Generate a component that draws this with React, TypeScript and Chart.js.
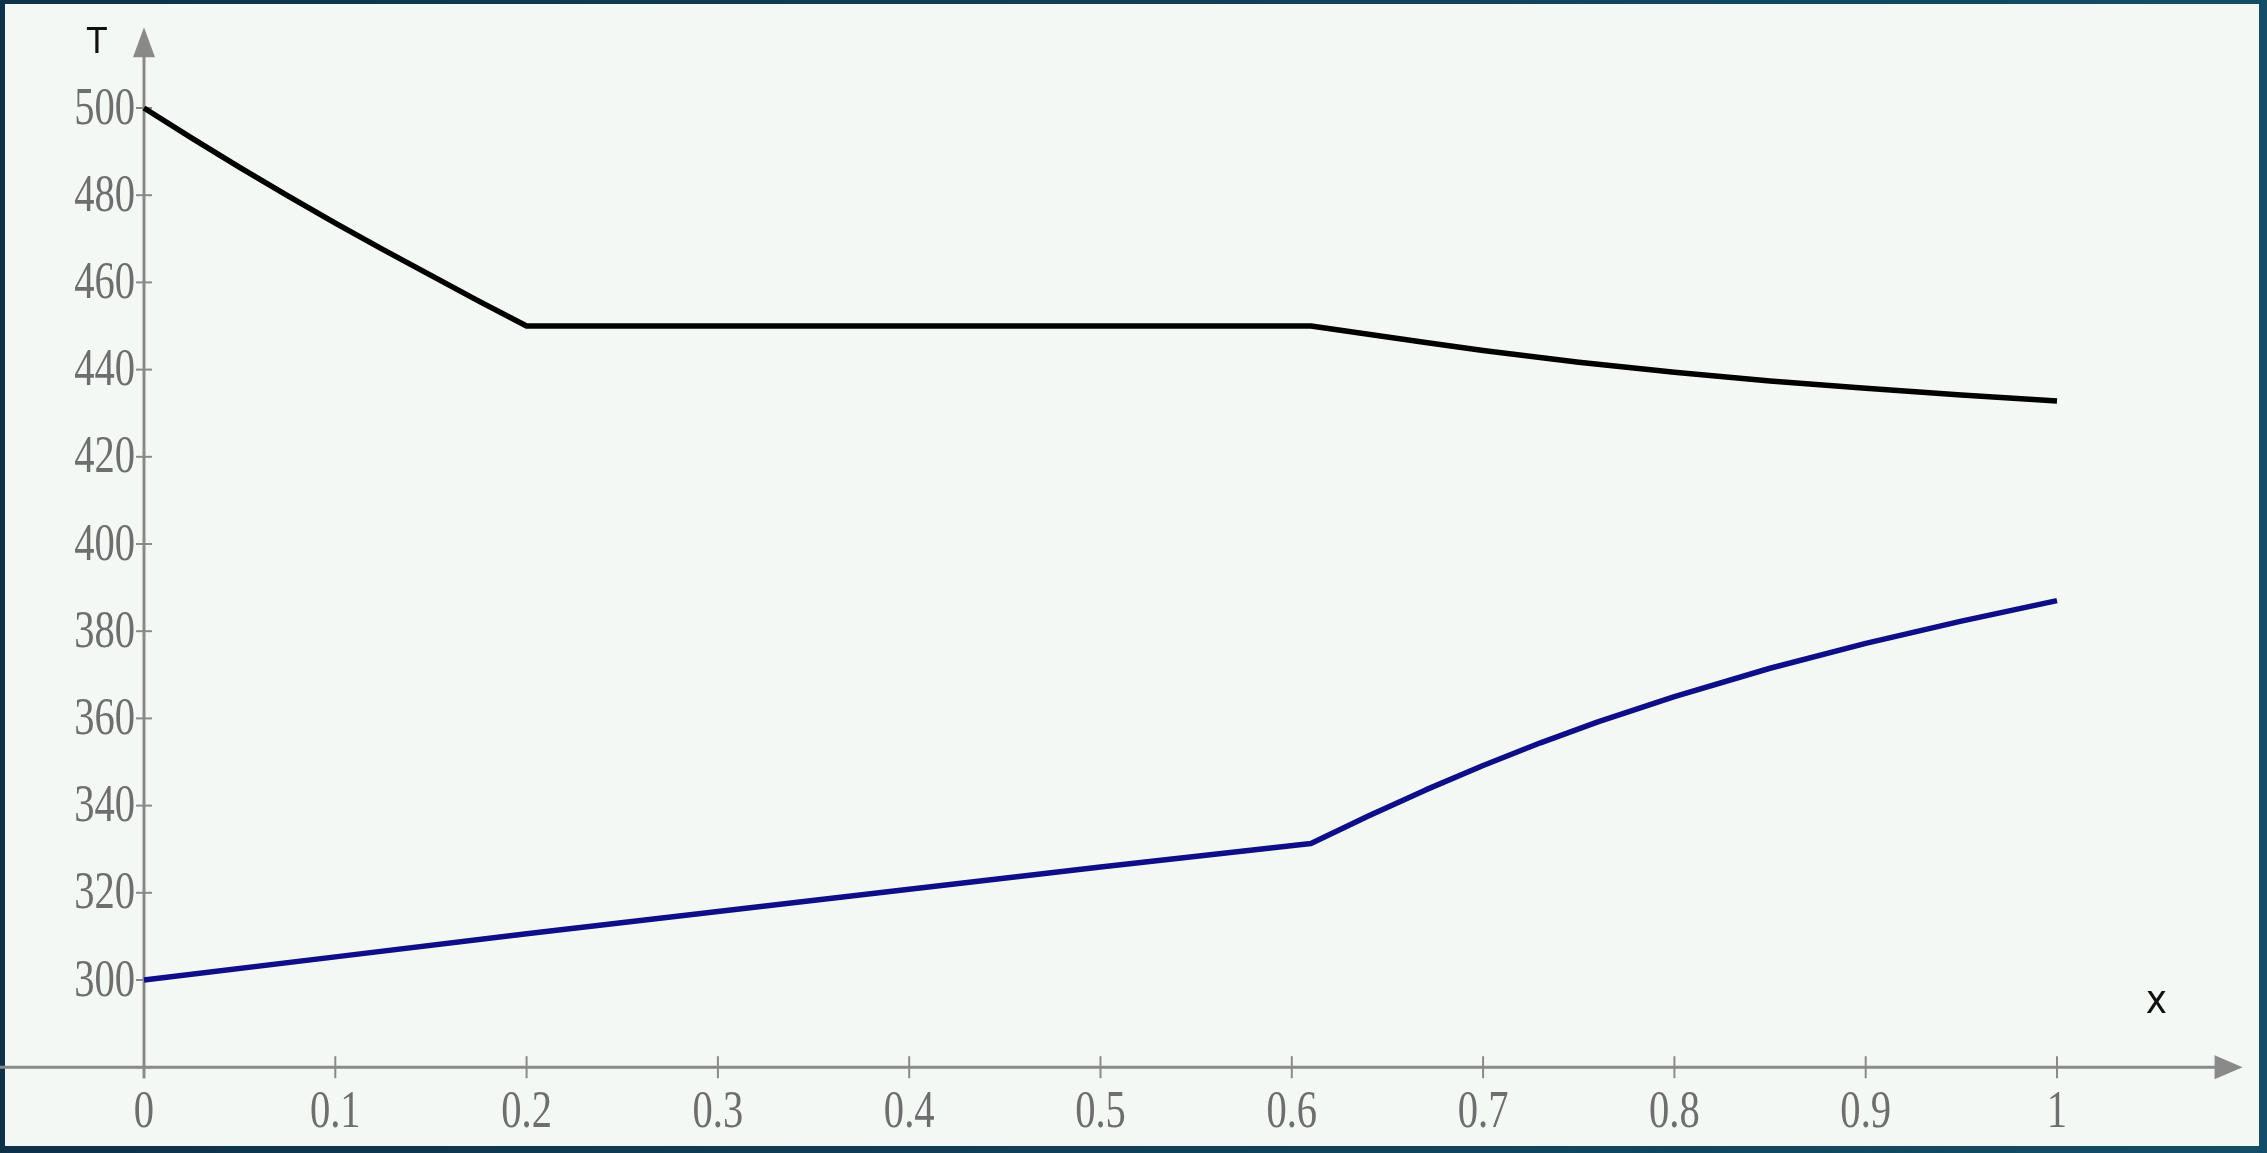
import React, { useEffect, useRef } from "react";
import { Chart, registerables } from "chart.js";

Chart.register(...registerables);

const upperX = [0, 0.025, 0.05, 0.075, 0.1, 0.125, 0.15, 0.175, 0.2, 0.3, 0.4, 0.5, 0.61, 0.64, 0.67, 0.7, 0.75, 0.8, 0.85, 0.9, 0.95, 1];
const upperT = [500, 493.1, 486.4, 479.9, 473.6, 467.5, 461.6, 455.7, 450, 450, 450, 450, 450, 448.1, 446.2, 444.4, 441.7, 439.4, 437.4, 435.7, 434.2, 432.8];

const lowerX = [0, 0.1, 0.2, 0.3, 0.4, 0.5, 0.61, 0.64, 0.67, 0.7, 0.73, 0.76, 0.8, 0.85, 0.9, 0.95, 1];
const lowerT = [300, 305.3, 310.6, 315.7, 320.8, 325.9, 331.3, 337.6, 343.6, 349.2, 354.4, 359.2, 365, 371.5, 377.2, 382.3, 387];

const xTicks = [0, 0.1, 0.2, 0.3, 0.4, 0.5, 0.6, 0.7, 0.8, 0.9, 1];
const xTickLabels = ["0", "0.1", "0.2", "0.3", "0.4", "0.5", "0.6", "0.7", "0.8", "0.9", "1"];
const yTicks = [300, 320, 340, 360, 380, 400, 420, 440, 460, 480, 500];
const yTickLabels = ["300", "320", "340", "360", "380", "400", "420", "440", "460", "480", "500"];

const W = 2267;
const H = 1153;

function condensedText(ctx: CanvasRenderingContext2D, text: string, x: number, y: number, sx: number) {
  ctx.save();
  ctx.translate(x, y);
  ctx.scale(sx, 1);
  ctx.fillText(text, 0, 0);
  ctx.restore();
}

const axesPlugin = {
  id: "mathAxes",
  beforeDatasetsDraw(chart: any) {
    const ctx = chart.ctx as CanvasRenderingContext2D;
    const xs = chart.scales.x;
    const ys = chart.scales.y;
    const axisColor = "#8a8a8a";
    const x0 = xs.getPixelForValue(0);
    const yAxisT = ys.getPixelForValue(280);
    ctx.save();
    ctx.strokeStyle = axisColor;
    ctx.fillStyle = axisColor;
    ctx.lineWidth = 3;
    // horizontal axis at T = 280
    const xArrowTip = xs.getPixelForValue(1.097);
    ctx.beginPath();
    ctx.moveTo(chart.chartArea.left, yAxisT);
    ctx.lineTo(xArrowTip - 20, yAxisT);
    ctx.stroke();
    ctx.beginPath();
    ctx.moveTo(xArrowTip, yAxisT);
    ctx.lineTo(xArrowTip - 28, yAxisT - 12);
    ctx.lineTo(xArrowTip - 28, yAxisT + 12);
    ctx.closePath();
    ctx.fill();
    // vertical axis at x = 0
    const yArrowTip = ys.getPixelForValue(518.5);
    ctx.beginPath();
    ctx.moveTo(x0, yAxisT + 11);
    ctx.lineTo(x0, yArrowTip + 20);
    ctx.stroke();
    ctx.beginPath();
    ctx.moveTo(x0, yArrowTip);
    ctx.lineTo(x0 - 11, yArrowTip + 30);
    ctx.lineTo(x0 + 11, yArrowTip + 30);
    ctx.closePath();
    ctx.fill();
    // x ticks
    ctx.lineWidth = 2;
    xTicks.forEach((v) => {
      const px = xs.getPixelForValue(v);
      ctx.beginPath();
      ctx.moveTo(px, yAxisT - 11);
      ctx.lineTo(px, yAxisT + 11);
      ctx.stroke();
    });
    ctx.beginPath();
    ctx.moveTo(x0 - 9, yAxisT);
    ctx.lineTo(x0 + 9, yAxisT);
    ctx.stroke();
    // y ticks
    yTicks.forEach((v) => {
      const py = ys.getPixelForValue(v);
      ctx.beginPath();
      ctx.moveTo(x0 - 8, py);
      ctx.lineTo(x0 + 8, py);
      ctx.stroke();
    });
    // labels
    ctx.fillStyle = "#6e6e6e";
    ctx.font = "52px 'Liberation Serif', serif";
    ctx.textAlign = "center";
    ctx.textBaseline = "middle";
    xTicks.forEach((v, i) => {
      condensedText(ctx, xTickLabels[i], xs.getPixelForValue(v), yAxisT + 46, 0.78);
    });
    ctx.textAlign = "right";
    yTicks.forEach((v, i) => {
      condensedText(ctx, yTickLabels[i], x0 - 9, ys.getPixelForValue(v) + 2, 0.78);
    });
    // axis names
    ctx.fillStyle = "#111111";
    ctx.textAlign = "center";
    ctx.font = "36px 'DejaVu Sans', sans-serif";
    condensedText(ctx, "T", x0 - 47, ys.getPixelForValue(514.8), 0.9);
    ctx.font = "40px 'DejaVu Sans', sans-serif";
    condensedText(ctx, "x", xs.getPixelForValue(1.052), ys.getPixelForValue(294.8), 0.9);
    ctx.restore();
  },
};

export default function App() {
  const ref = useRef<HTMLCanvasElement | null>(null);
  useEffect(() => {
    if (!ref.current) return;
    const pxPerX = 1913;
    const pxPerT = 4.36;
    const chart = new Chart(ref.current, {
      type: "scatter",
      data: {
        datasets: [
          {
            label: "upper",
            data: upperX.map((x, i) => ({ x, y: upperT[i] })),
            showLine: true,
            borderColor: "#000000",
            borderWidth: 5.5,
            borderJoinStyle: "round",
            pointRadius: 0,
            tension: 0,
          },
          {
            label: "lower",
            data: lowerX.map((x, i) => ({ x, y: lowerT[i] })),
            showLine: true,
            borderColor: "#0e0e88",
            borderWidth: 5.5,
            borderJoinStyle: "round",
            pointRadius: 0,
            tension: 0,
          },
        ],
      },
      options: {
        responsive: false,
        animation: false,
        maintainAspectRatio: false,
        layout: { padding: 0 },
        plugins: { legend: { display: false }, tooltip: { enabled: false } },
        scales: {
          x: { type: "linear", display: false, min: -144 / pxPerX, max: (W - 144) / pxPerX },
          y: { type: "linear", display: false, max: 500 + 108 / pxPerT, min: 500 + 108 / pxPerT - H / pxPerT },
        },
      } as any,
      plugins: [axesPlugin],
    });
    return () => chart.destroy();
  }, []);
  return (
    <div style={{ position: "absolute", left: 0, top: 0, width: W, height: H, background: "linear-gradient(90deg, #0d3249, #134d66)" }}>
      <div style={{ position: "absolute", left: 5, top: 4, width: W - 13, height: H - 11, background: "#f4f8f5" }} />
      <canvas ref={ref} width={W} height={H} style={{ position: "absolute", left: 0, top: 0, width: W, height: H }} />
    </div>
  );
}
